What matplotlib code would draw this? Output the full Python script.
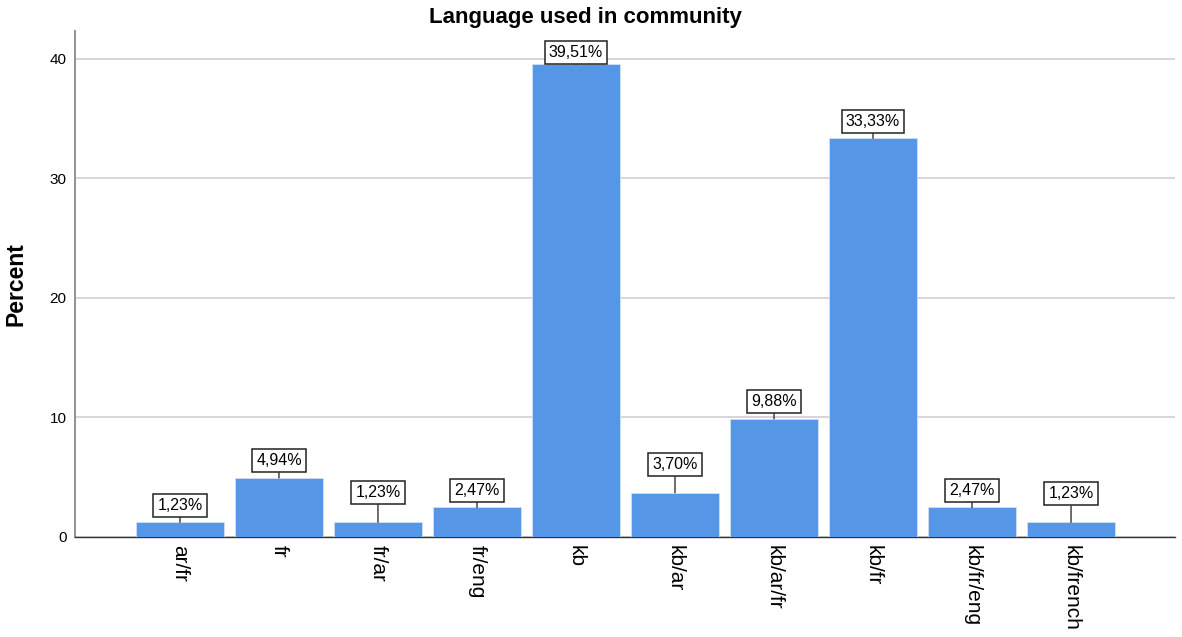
import matplotlib
matplotlib.use('Agg')
import matplotlib.pyplot as plt

categories = ['ar/fr', 'fr', 'fr/ar', 'fr/eng', 'kb', 'kb/ar', 'kb/ar/fr', 'kb/fr', 'kb/fr/eng', 'kb/french']
percents = [1.23, 4.94, 1.23, 2.47, 39.51, 3.70, 9.88, 33.33, 2.47, 1.23]
value_labels = ['1,23%', '4,94%', '1,23%', '2,47%', '39,51%', '3,70%', '9,88%', '33,33%', '2,47%', '1,23%']
# how far the label box sits above each bar (points)
label_lift = [7, 7, 16, 7, 3, 15, 7, 7, 7, 15]

plt.rcParams['font.family'] = ['Liberation Sans', 'DejaVu Sans']

fig = plt.figure(figsize=(11.82, 6.37), dpi=100)
ax = fig.add_axes([75/1182, 1 - 537/637, 1100/1182, 506/637])

ax.bar(range(len(categories)), percents, width=0.89, color='#5596e6', edgecolor='#cfe0f7', linewidth=0.6, zorder=3)

for i in range(len(categories)):
    ax.annotate(value_labels[i], xy=(i, percents[i]), xytext=(0, label_lift[i]),
                textcoords='offset points', ha='center', va='bottom', fontsize=11.5,
                bbox=dict(boxstyle='square,pad=0.25', fc='white', ec='#222222', lw=1.1),
                arrowprops=dict(arrowstyle='-', color='#333333', lw=1, shrinkA=0, shrinkB=0),
                zorder=4)

ax.set_xlim(-1.06, 10.05)
ax.set_ylim(0, 42.3)
ax.set_yticks([0, 10, 20, 30, 40])
ax.set_xticks(range(len(categories)))
ax.set_xticklabels(categories, rotation=270, fontsize=15)
ax.tick_params(axis='y', length=0, labelsize=11, pad=6)
ax.tick_params(axis='x', length=0, pad=6)
ax.yaxis.grid(True, color='#d0d0d0', lw=1.2, zorder=0)
ax.set_axisbelow(True)

for s in ['top', 'right']:
    ax.spines[s].set_visible(False)
ax.spines['left'].set_color('#888888')
ax.spines['left'].set_linewidth(1.3)
ax.spines['bottom'].set_color('#333333')
ax.spines['bottom'].set_linewidth(1)

ax.set_ylabel('Percent', fontsize=16.5, fontweight='bold', labelpad=16)
fig.text(585/1182, 1 - 18/637, 'Language used in community', ha='center', va='center',
         fontsize=16, fontweight='bold')

fig.savefig('out.png', dpi=100)
